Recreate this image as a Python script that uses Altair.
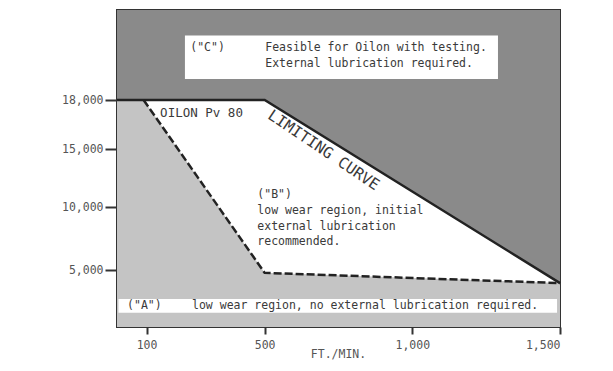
import altair as alt
import pandas as pd

# ---- data ----
speed_ticks = [100, 500, 1000, 1500]          # ft./min.
pv_ticks = [5000, 10000, 15000, 18000]

limit_speed = [0, 500, 1500]                  # limiting curve
limit_pv = [18000, 18000, 3850]

dash_speed = [90, 500, 1500]                  # boundary of region A
dash_pv = [18000, 4750, 3850]

regionA_speed = [0, 90, 500, 1500]
regionA_pv = [18000, 18000, 4750, 3850]

PV_TOP = 24000

# hand-drawn (uneven) vertical axis: piecewise linear scale
Y_DOMAIN = [0, 5000, 10000, 15000, 18000, PV_TOP]
Y_RANGE = [317, 260, 197, 139, 90, 0]

W, H = 443, 317
FONT = "DejaVu Sans Mono"
TXT = "#3a3a3a"

xs = alt.Scale(domain=[0, 1500], nice=False, zero=False)
ys = alt.Scale(domain=Y_DOMAIN, range=Y_RANGE, nice=False, zero=False)

x_axis = alt.Axis(values=speed_ticks, format=",d", title=None, grid=False,
                  domain=False, tickSize=7, tickWidth=2, tickColor="#333",
                  labelFont=FONT, labelFontSize=11.5, labelColor="#555",
                  labelPadding=5)
y_axis = alt.Axis(values=pv_ticks, format=",d", title=None, grid=False,
                  domain=True, domainWidth=3, domainColor="#333",
                  tickSize=12, tickWidth=2, tickColor="#333",
                  labelFont=FONT, labelFontSize=11.5, labelColor="#555",
                  labelPadding=2)

limit_df = pd.DataFrame({"speed": limit_speed, "pv": limit_pv, "top": PV_TOP})
dash_df = pd.DataFrame({"speed": dash_speed, "pv": dash_pv})
regA_df = pd.DataFrame({"speed": regionA_speed, "pv": regionA_pv, "bottom": 0})

regionC = alt.Chart(limit_df).mark_area(color="#8a8a8a", opacity=1).encode(
    x=alt.X("speed:Q", scale=xs, axis=x_axis),
    y=alt.Y("pv:Q", scale=ys, axis=y_axis),
    y2="top:Q",
)

regionA = alt.Chart(regA_df).mark_area(color="#c4c4c4", opacity=1).encode(
    x=alt.X("speed:Q", scale=xs),
    y=alt.Y("pv:Q", scale=ys),
    y2="bottom:Q",
)

# white label band in region A and white label box in region C
boxes_df = pd.DataFrame({
    "x0": [5, 230], "x1": [1490, 1290],
    "y0": [1250, 19400], "y1": [2450, 22300],
})
boxes = alt.Chart(boxes_df).mark_rect(color="white").encode(
    x=alt.X("x0:Q", scale=xs), x2="x1:Q",
    y=alt.Y("y0:Q", scale=ys), y2="y1:Q",
)

limit_line = alt.Chart(limit_df).mark_line(color="#222", strokeWidth=2.5).encode(
    x=alt.X("speed:Q", scale=xs),
    y=alt.Y("pv:Q", scale=ys),
)

dash_line = alt.Chart(dash_df).mark_line(color="#222", strokeWidth=2.5,
                                         strokeDash=[8, 3]).encode(
    x=alt.X("speed:Q", scale=xs),
    y=alt.Y("pv:Q", scale=ys),
)

notes_df = pd.DataFrame({
    "x": [248, 502, 502, 475, 475, 475, 475, 34, 254],
    "y": [21500, 21500, 20400, 11034, 9683, 8413, 7222, 1842, 1842],
    "text": ['("C")', "Feasible for Oilon with testing.",
             "External lubrication required.",
             '("B")', "low wear region, initial", "external lubrication",
             "recommended.", '("A")',
             "low wear region, no external lubrication required."],
})
notes = alt.Chart(notes_df).mark_text(
    align="left", baseline="middle", font=FONT, fontSize=11.5, color=TXT
).encode(
    x=alt.X("x:Q", scale=xs), y=alt.Y("y:Q", scale=ys), text="text:N"
)

oilon = alt.Chart(pd.DataFrame({"x": [146], "y": [17204], "t": ["OILON Pv 80"]})).mark_text(
    align="left", baseline="middle", font=FONT, fontSize=12.5, color=TXT
).encode(x=alt.X("x:Q", scale=xs), y=alt.Y("y:Q", scale=ys), text="t:N")

curve_lbl = alt.Chart(pd.DataFrame({"x": [700], "y": [14900], "t": ["LIMITING CURVE"]})).mark_text(
    align="center", baseline="middle", font=FONT, fontSize=15.5, color=TXT, angle=34
).encode(x=alt.X("x:Q", scale=xs), y=alt.Y("y:Q", scale=ys), text="t:N")

xtitle = alt.Chart(pd.DataFrame({"x": [750], "t": ["FT./MIN."]})).mark_text(
    align="center", baseline="middle", font=FONT, fontSize=11.5, color="#555"
).encode(x=alt.X("x:Q", scale=xs), y=alt.value(345), text="t:N")

chart = alt.layer(
    regionC, regionA, boxes, limit_line, dash_line, notes, oilon, curve_lbl, xtitle
).properties(
    width=W, height=H,
    autosize=alt.AutoSizeParams(type="none"),
    padding={"left": 109, "top": 2, "right": 45, "bottom": 40},
    background="white",
).configure_view(stroke="#333", strokeWidth=2)

chart.save("out.html", embed_options={"renderer": "svg", "actions": False})
